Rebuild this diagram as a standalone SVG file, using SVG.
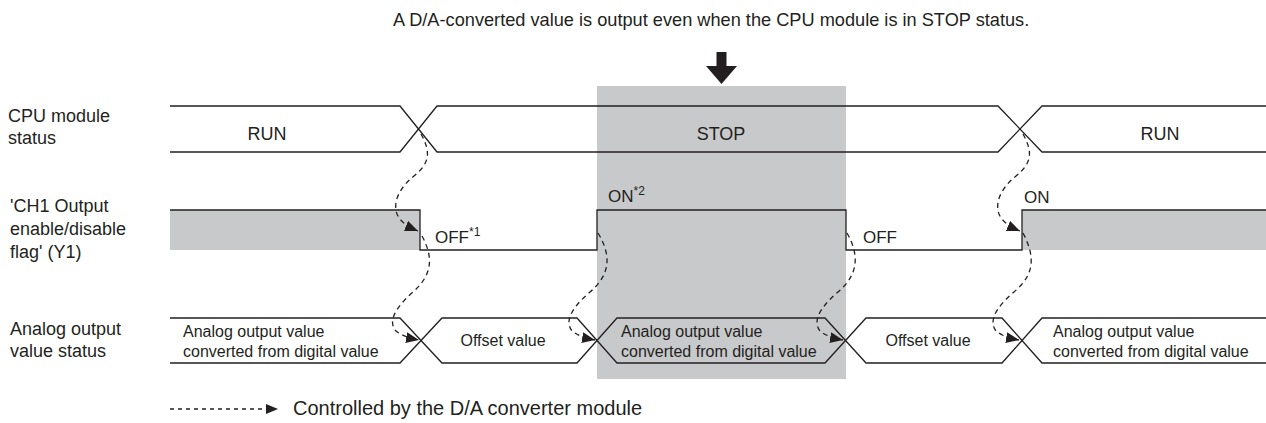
<svg xmlns="http://www.w3.org/2000/svg" width="1266" height="423" viewBox="0 0 1266 423">
<style>
text{font-family:"Liberation Sans",Arial,sans-serif;fill:#231f20}
.lbl{font-size:18px}
.sig{font-size:18px}
.st{font-size:17px}
.sup{font-size:12px}
.av{font-size:16px}
.leg{font-size:20px}
.wave{fill:none;stroke:#231f20;stroke-width:1.3}
.dash{fill:none;stroke:#231f20;stroke-width:1.3;stroke-dasharray:5 4}
.gray{fill:#c8c9cb}
</style>
<defs>
<marker id="ah" markerUnits="userSpaceOnUse" markerWidth="15" markerHeight="12" refX="13" refY="5.5" orient="auto">
<path d="M0,0 L13,5.5 L0,11 Z" fill="#231f20"/>
</marker>
</defs>
<rect id="stop-band" class="gray" x="597" y="86" width="249" height="293"/>
<g id="title">
<text class="lbl" x="393" y="26" style="font-size:18.2px">A D/A-converted value is output even when the CPU module is in STOP status.</text>
<polygon points="716.5,52 726.5,52 726.5,66 737,66 721.5,84 706,66 716.5,66" fill="#231f20"/>
</g>
<g id="labels">
<text class="lbl" x="8" y="122">CPU module</text>
<text class="lbl" x="8" y="144">status</text>
<text class="lbl" x="10" y="212">'CH1 Output</text>
<text class="lbl" x="10" y="235">enable/disable</text>
<text class="lbl" x="10" y="258">flag' (Y1)</text>
<text class="lbl" x="10" y="335">Analog output</text>
<text class="lbl" x="10" y="357">value status</text>
</g>
<g id="cpu-status">
<path class="wave" d="M170,106 H400 L437,152 H998 L1042,106 H1266"/>
<path class="wave" d="M170,152 H400 L437,106 H998 L1042,152 H1266"/>
<text class="sig" x="267" y="140" text-anchor="middle">RUN</text>
<text class="sig" x="721" y="140" text-anchor="middle">STOP</text>
<text class="sig" x="1160" y="140" text-anchor="middle">RUN</text>
</g>
<g id="y1-flag">
<rect class="gray" x="170" y="210" width="250" height="40"/>
<rect class="gray" x="1022" y="210" width="244" height="40"/>
<path class="wave" d="M170,210 H420 V250 H597 V210 H846 V250 H1022 V210 H1266"/>
<text class="st" x="435" y="243">OFF<tspan class="sup" dy="-7">*1</tspan></text>
<text class="st" x="608" y="202">ON<tspan class="sup" dy="-7">*2</tspan></text>
<text class="st" x="863" y="243">OFF</text>
<text class="st" x="1024" y="203">ON</text>
</g>
<g id="analog-status">
<path class="wave" d="M170,318 H400 L442,363 H577 L617,318 H825 L866,363 H1002 L1042,318 H1266"/>
<path class="wave" d="M170,363 H400 L442,318 H577 L617,363 H825 L866,318 H1002 L1042,363 H1266"/>
<text class="av" x="183" y="337">Analog output value</text>
<text class="av" x="183" y="357">converted from digital value</text>
<text class="av" x="503" y="346" text-anchor="middle">Offset value</text>
<text class="av" x="621" y="337">Analog output value</text>
<text class="av" x="621" y="357">converted from digital value</text>
<text class="av" x="928" y="346" text-anchor="middle">Offset value</text>
<text class="av" x="1053" y="337">Analog output value</text>
<text class="av" x="1053" y="357">converted from digital value</text>
</g>
<g id="connectors">
<path class="dash" marker-end="url(#ah)" d="M421,134 C431,152 430,163 414,176 C398,189 393,203 397,214 C400,221 406,226 418,231"/>
<path class="dash" marker-end="url(#ah)" d="M422,236 C434,258 432,275 413,292 C394,309 388,322 396,331 C401,335 408,338 419,340"/>
<path class="dash" marker-end="url(#ah)" d="M598,233 C612,256 610,275 590,292 C570,309 565,322 572,331 C577,335 584,338 595,340"/>
<path class="dash" marker-end="url(#ah)" d="M847,233 C860,256 858,275 838,292 C818,309 813,322 820,331 C825,335 832,338 843,340"/>
<path class="dash" marker-end="url(#ah)" d="M1023,134 C1033,152 1032,163 1016,176 C1000,189 995,203 999,214 C1002,221 1008,226 1020,231"/>
<path class="dash" marker-end="url(#ah)" d="M1023,233 C1036,258 1034,275 1014,292 C994,309 989,322 996,331 C1001,335 1008,338 1019,340"/>
</g>
<g id="legend">
<path class="dash" d="M170,409 H266" style="stroke-dasharray:4 4"/>
<polygon points="266,404 278,409 266,414" fill="#231f20"/>
<text class="leg" x="293" y="415">Controlled by the D/A converter module</text>
</g>
</svg>
